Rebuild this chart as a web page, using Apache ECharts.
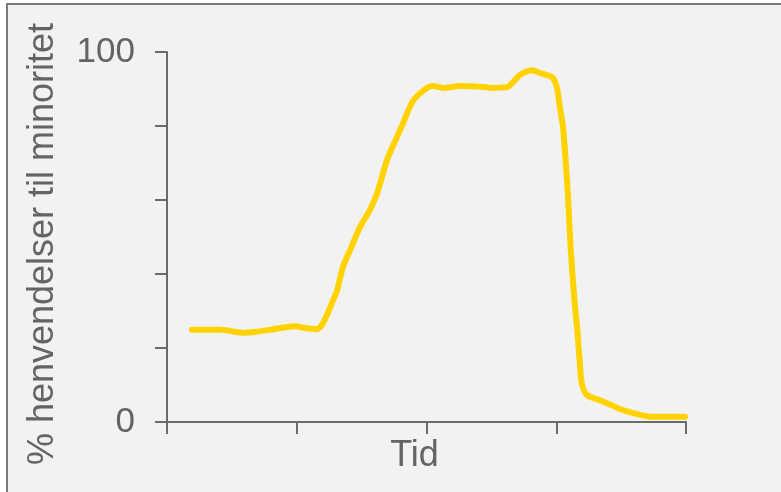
<!DOCTYPE html>
<html>
<head>
<meta charset="utf-8">
<script src="https://cdn.jsdelivr.net/npm/echarts@6/dist/echarts.min.js"></script>
<style>
html,body{margin:0;padding:0;background:#ffffff;width:781px;height:492px;overflow:hidden;}
#frame{position:absolute;left:6px;top:3px;width:800px;height:520px;background:#f2f2f2;border-top:2px solid #7a7a7a;border-left:2px solid #7a7a7a;}
#chart{position:absolute;left:0;top:0;width:781px;height:492px;}
</style>
</head>
<body>
<div id="frame"></div>
<div id="chart"></div>
<script>
// Time position (0-100 along "Tid") and % values
const timeValues = [4.8,10.2,15.0,19.8,24.7,26.6,28.9,30.1,31.8,32.8,33.9,35.3,37.2,39.1,40.5,42.4,44.3,45.5,47.4,50.1,51.3,53.2,56.5,61.7,62.2,65.5,68.0,70.3,71.9,74.2,75.1,75.7,76.3,76.8,77.3,77.8,78.5,79.1,79.6,79.9,80.9,83.4,84.8,87.3,89.8,93.6,99.8];
const pctValues  = [24.9,24.9,24.1,24.9,25.9,25.4,25.1,26.8,32.2,35.7,41.9,46.5,52.7,57.3,61.9,70.8,77.0,80.8,86.8,90.3,90.8,90.3,90.8,90.5,90.3,90.5,93.8,95.1,94.3,93.2,90.5,85.1,79.7,70.8,60.0,46.5,33.0,24.1,14.9,10.5,7.3,5.9,5.1,3.5,2.4,1.4,1.4];
const yTickLabels = {0:'0',100:'100'};
const yAxisName = '% henvendelser til minoritet';
const xAxisName = 'Tid';

const data = timeValues.map((t,i)=>[t,pctValues[i]]);
const chart = echarts.init(document.getElementById('chart'));
const axisColor = '#6b6b6b';
const textColor = '#646464';
const font = 'Liberation Sans, Arial, sans-serif';
chart.setOption({
  backgroundColor:'transparent',
  animation:false,
  grid:{left:167,right:95,top:52,bottom:70},
  xAxis:{
    type:'value',min:0,max:100,interval:25,
    name:xAxisName,nameLocation:'middle',nameGap:16,
    nameTextStyle:{fontFamily:font,fontSize:36,color:textColor,padding:[0,24,0,0]},
    axisLine:{show:true,lineStyle:{color:axisColor,width:2}},
    axisTick:{show:true,inside:false,length:12,lineStyle:{color:axisColor,width:2}},
    axisLabel:{show:false},
    splitLine:{show:false}
  },
  yAxis:{
    type:'value',min:0,max:100,interval:20,
    name:yAxisName,nameLocation:'middle',nameGap:106,nameRotate:90,
    nameTextStyle:{fontFamily:font,fontSize:36,color:textColor,padding:[0,14,0,0]},
    axisLine:{show:true,lineStyle:{color:axisColor,width:2}},
    axisTick:{show:true,inside:false,length:12,lineStyle:{color:axisColor,width:2}},
    axisLabel:{show:true,margin:32,fontFamily:font,fontSize:35,color:textColor,
      formatter:v=>yTickLabels[v]!==undefined?yTickLabels[v]:''},
    splitLine:{show:false}
  },
  series:[{
    type:'line',data:data,smooth:0.25,showSymbol:false,
    lineStyle:{color:'#ffd200',width:6,cap:'round',join:'round'}
  }]
});
</script>
</body>
</html>
